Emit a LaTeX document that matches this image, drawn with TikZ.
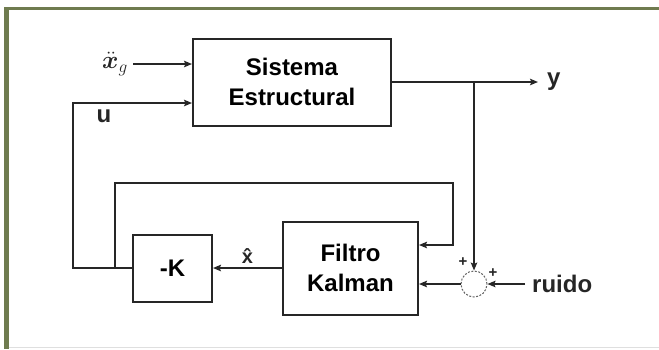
\documentclass[tikz,border=0pt]{standalone}
\usepackage{fontspec}
\setsansfont{Liberation Sans}
\usepackage{amsmath,bm}
\usepackage{xcolor}
\usepackage{tikz}
\usetikzlibrary{arrows.meta,positioning}
\definecolor{framec}{HTML}{6F7B4F}
\definecolor{linec}{HTML}{262626}
\tikzset{
  ar/.style={-{Stealth[length=8pt,width=6.5pt,inset=1.5pt]},line width=1.6pt,linec},
  blk/.style={draw=linec,line width=2pt,fill=white,align=center,inner sep=0pt,
    font=\fontsize{24}{30}\selectfont\sffamily\bfseries},
  lbl/.style={inner sep=0pt,font=\fontsize{24}{26}\selectfont\sffamily\bfseries,text=linec},
  sgn/.style={inner sep=0pt,font=\fontsize{15}{15}\selectfont\sffamily\bfseries,text=linec}
}
\begin{document}
\begin{tikzpicture}[x=1pt,y=-1pt]
\useasboundingbox (0,0) rectangle (659,349);
% frame
\fill[white] (0,0) rectangle (659,349);
\fill[framec] (4,6.5) rectangle (659,9.5);
\fill[framec] (4,6.5) rectangle (8.5,349);
\draw[gray!25,line width=1pt] (8.5,347.5) -- (659,347.5);
% blocks
\node[blk,minimum width=198pt,minimum height=87pt] (sis) at (292,82) {Sistema\\Estructural};
\node[blk,minimum width=135pt,minimum height=93pt] (filt) at (350.5,268) {Filtro\\Kalman};
\node[blk,minimum width=79pt,minimum height=67pt] (negk) at (172.5,268) {-K};
\node[draw=linec!70,dash pattern=on 2pt off 1.5pt,line width=1pt,circle,
  minimum size=26pt,inner sep=0pt] (sum) at (474,284) {};
% labels
\node[inner sep=0pt,font=\fontsize{26}{26}\selectfont,text=linec,anchor=east] (xg) at (128,64) {$\bm{\ddot{x}}_g$};
\node[lbl] (ulab) at (104,116) {u};
\coordinate (yend) at (538,82);
\node[lbl,right=9pt of yend] (yout) {y};
\node[lbl,anchor=west] (ruido) at (532,284) {ruido};
\node[sgn] (pa) at (463,262) {+};
\node[sgn] (pb) at (493,273) {+};
% helper points
\coordinate (brk) at (474,82);
\coordinate (ucorner) at (73,103);
\coordinate (fbjoin) at (115,268);
\coordinate (fbtop) at (453,183);
% connectors
\draw[ar] ([xshift=5pt]xg.east) -- (xg.east -| sis.west);
\draw[ar] (negk.west) -| (ucorner) -- (ucorner -| sis.west);
\draw[ar] (sis.east) -- (yend);
\draw[ar] (brk) -- (sum.north);
\draw[ar] ([xshift=-7pt]ruido.west) -- (sum.east);
\draw[ar] (sum.west) -- (sum -| filt.east);
\draw[ar] (fbjoin) |- (fbtop) |- ([yshift=23pt]filt.east);
\draw[ar] (filt.west) -- (negk.east) node[midway,above=4pt,lbl,font=\fontsize{20}{20}\selectfont\sffamily\bfseries] (xhat) {\^{x}};
\end{tikzpicture}
\end{document}
